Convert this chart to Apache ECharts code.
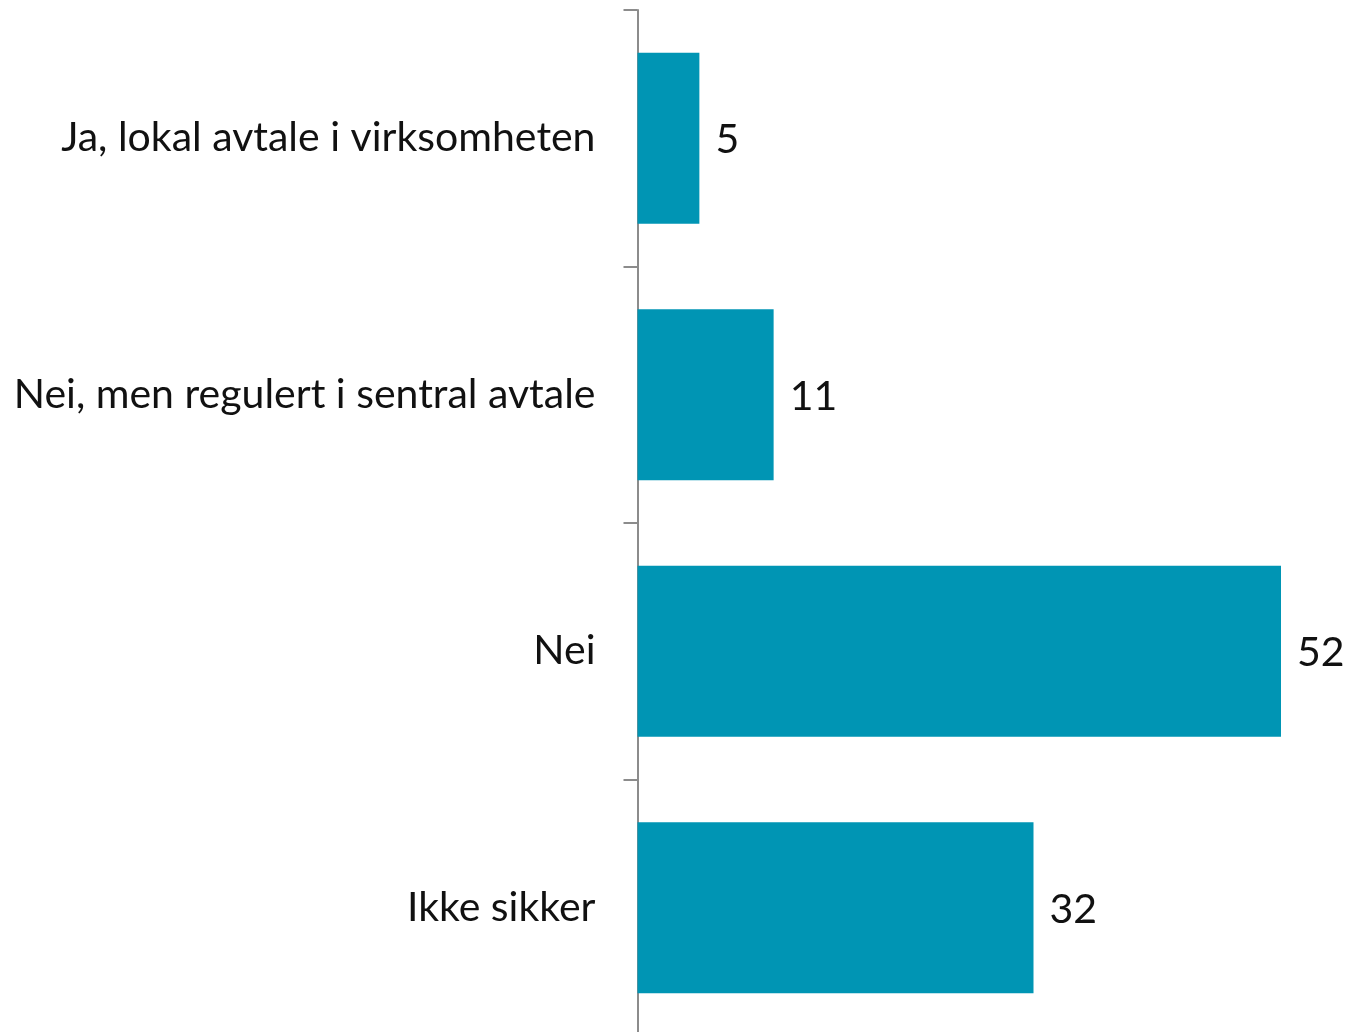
<!DOCTYPE html>
<html><head><meta charset="utf-8">
<script src="https://cdn.jsdelivr.net/npm/echarts@6/dist/echarts.min.js"></script>
<style>html,body{margin:0;padding:0;background:#fff}#c{width:1351px;height:1032px}</style>
</head><body><div id="c"></div>
<script>
const categories = ["Ja, lokal avtale i virksomheten", "Nei, men regulert i sentral avtale", "Nei", "Ikke sikker"];
const values = [5, 11, 52, 32];
const chart = echarts.init(document.getElementById('c'), null, {renderer: 'canvas'});
chart.setOption({
  animation: false,
  grid: {left: 637.5, top: 10, height: 1026, right: 20.5, containLabel: false, outerBoundsMode: 'none'},
  xAxis: {type: 'value', min: 0, max: 56, show: false},
  yAxis: {
    type: 'category', data: categories, inverse: true,
    axisLine: {show: true, lineStyle: {color: '#8c8c8c', width: 2}},
    axisTick: {show: true, length: 14, lineStyle: {color: '#8c8c8c', width: 2}},
    axisLabel: {margin: 42, color: '#111', fontSize: 41, fontFamily: 'Lato'}
  },
  series: [{
    type: 'bar', data: values, barCategoryGap: '33.3%',
    itemStyle: {color: '#0095B4'},
    label: {show: true, position: 'right', distance: 16, offset: [0, 2], color: '#111', fontSize: 41, fontFamily: 'Lato'}
  }]
});
</script></body></html>
